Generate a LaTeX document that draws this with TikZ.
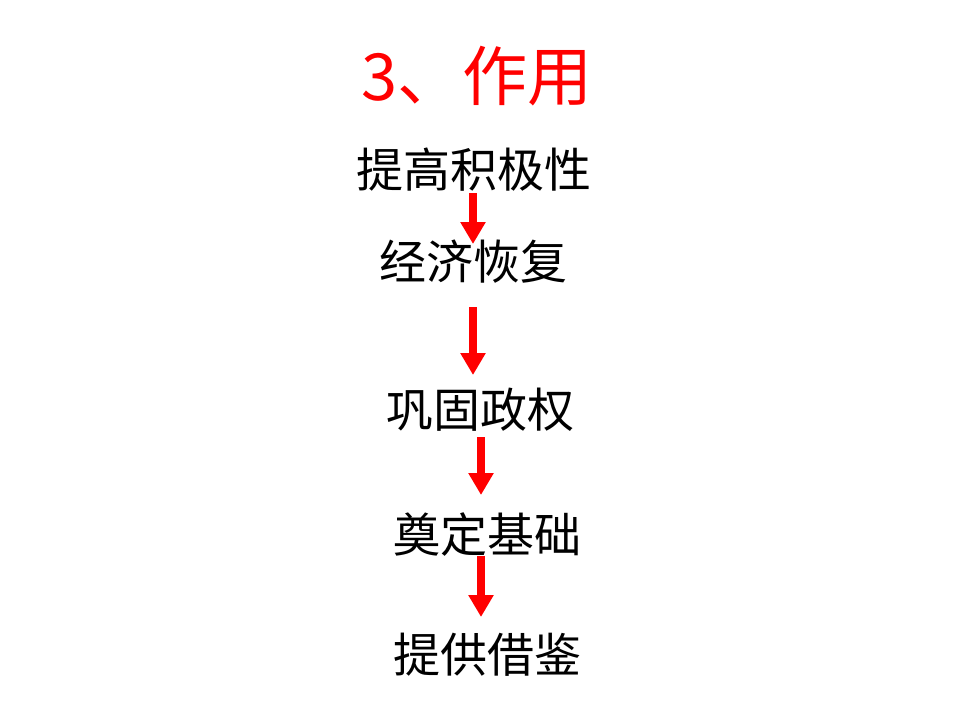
\documentclass[tikz,border=0pt]{standalone}
\usepackage{fontspec}
\newfontfamily\cjk{Noto Sans CJK SC}
\usetikzlibrary{arrows.meta}
\begin{document}
\begin{tikzpicture}[x=1pt,y=-1pt,
  lbl/.style={font=\cjk\fontsize{47}{50}\selectfont,inner sep=0pt,anchor=center},
  arr/.style={draw=red,line width=8pt,-{Triangle[width=24pt,length=22pt]}}]
\useasboundingbox (0,0) rectangle (960,720);
\node[lbl,text=red,font=\cjk\fontsize{65}{68}\selectfont] (t) at (477,76) {3、作用};
\node[lbl] (a) at (474,170) {提高积极性};
\node[lbl] (b) at (473,262) {经济恢复};
\node[lbl] (c) at (480,410) {巩固政权};
\node[lbl] (d) at (487,535) {奠定基础};
\node[lbl] (e) at (487,655) {提供借鉴};
\coordinate (a1) at (473,193); \coordinate (a2) at (473,244);
\coordinate (b1) at (473,307); \coordinate (b2) at (473,375);
\coordinate (c1) at (481,437); \coordinate (c2) at (481,495);
\coordinate (d1) at (481,556); \coordinate (d2) at (481,617);
\draw[arr] (a1) -- (a2);
\draw[arr] (b1) -- (b2);
\draw[arr] (c1) -- (c2);
\draw[arr] (d1) -- (d2);
\end{tikzpicture}
\end{document}
